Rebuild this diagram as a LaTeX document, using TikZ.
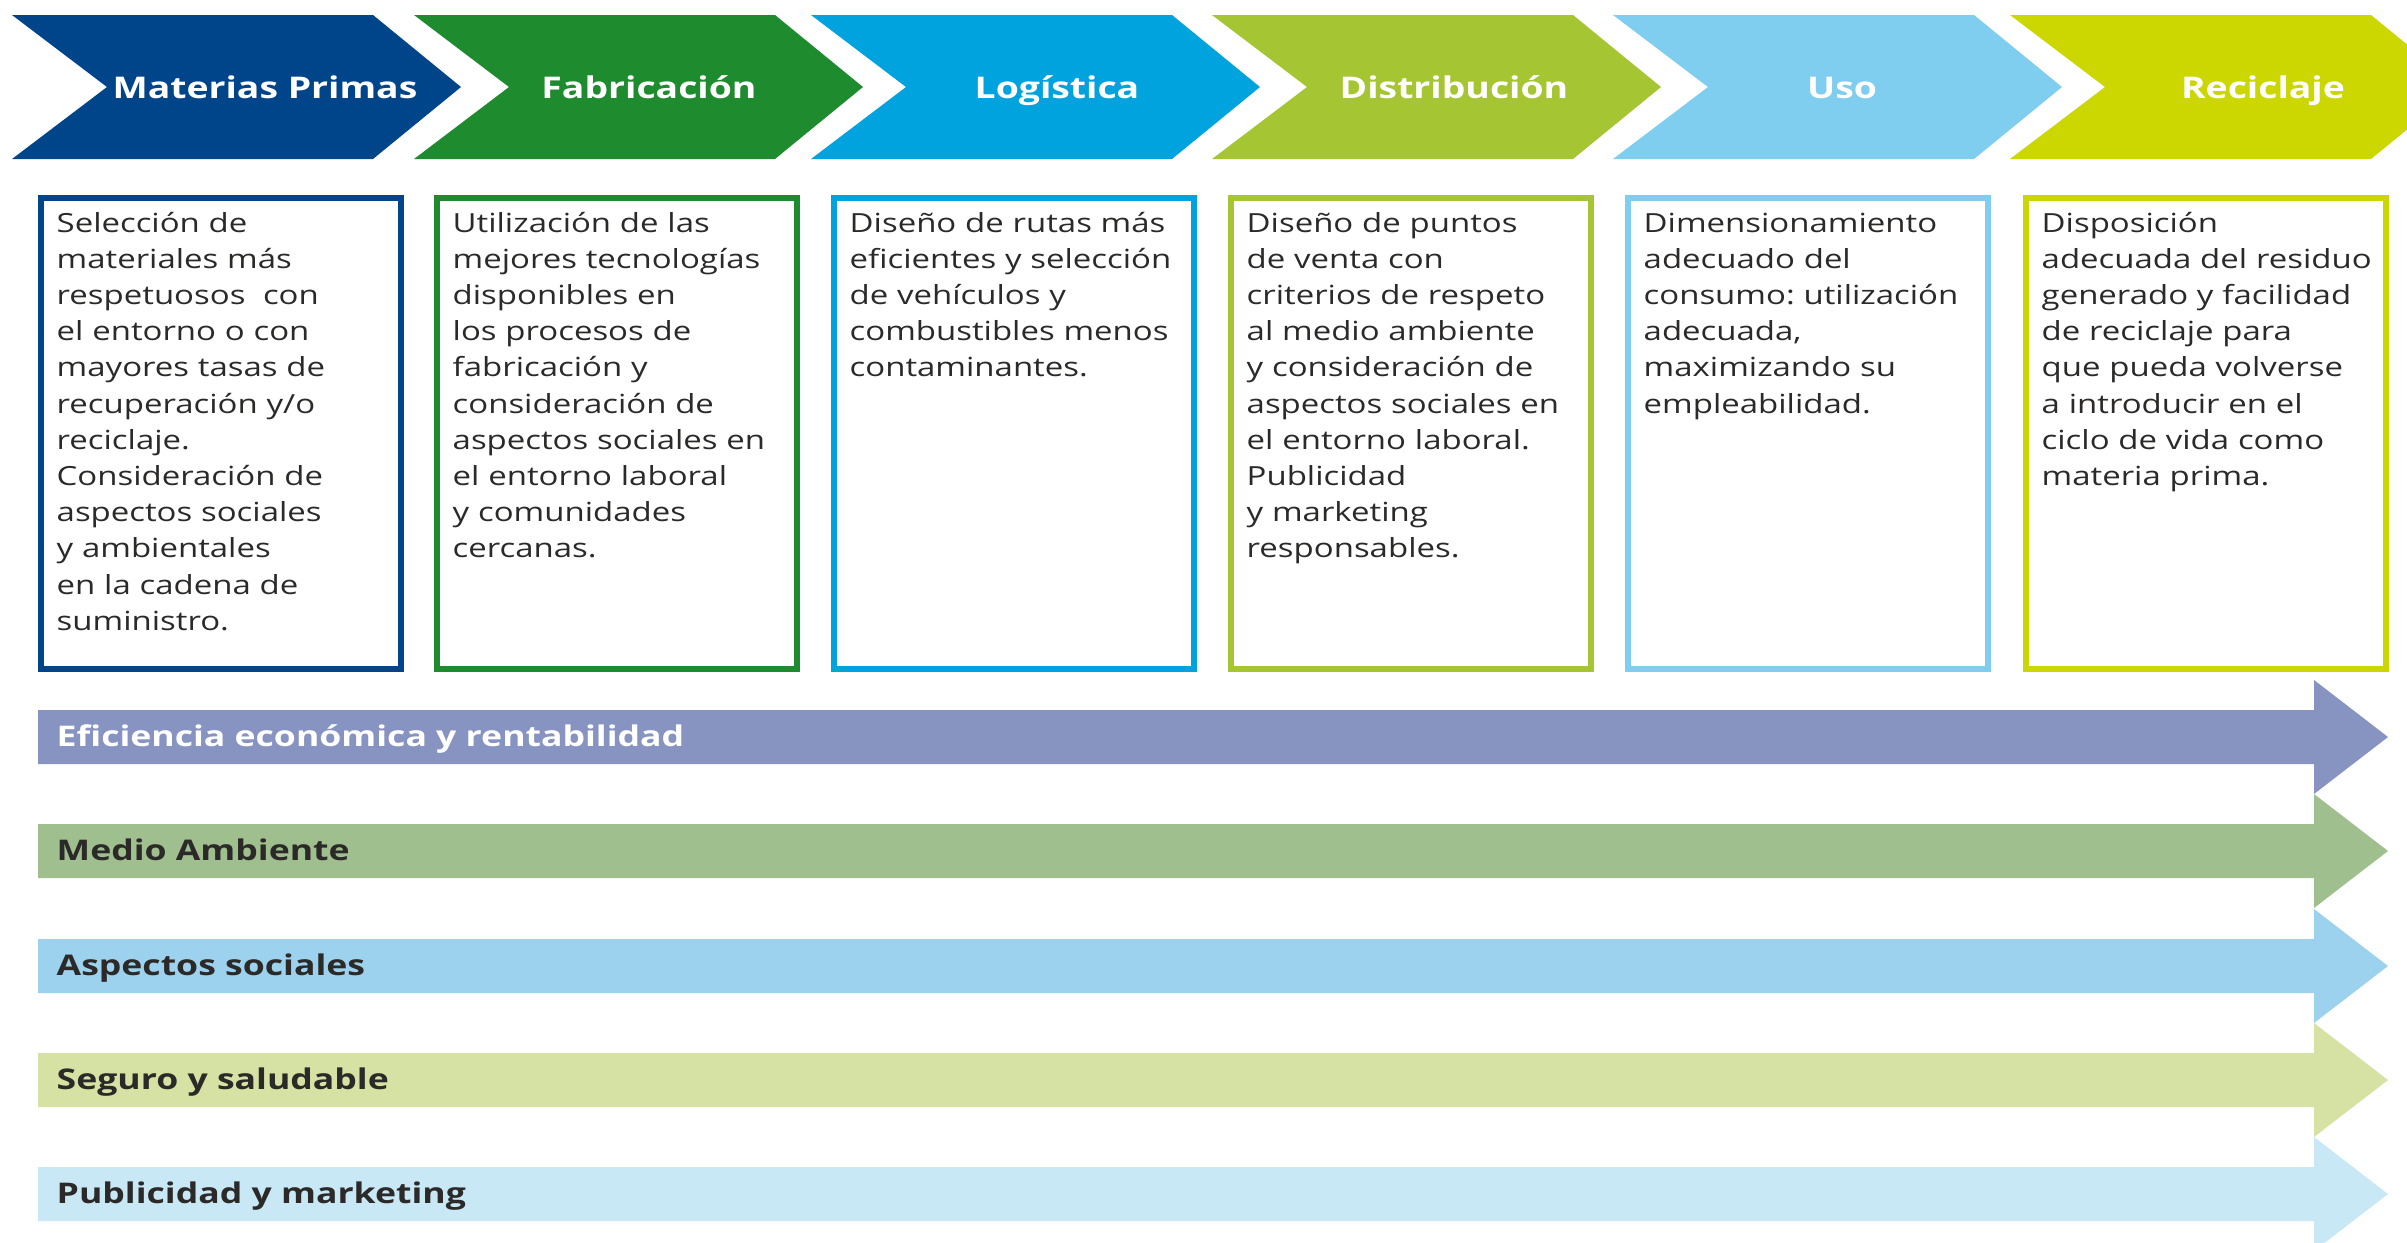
\documentclass[tikz,border=0pt]{standalone}
\usepackage{fontspec}
\setmainfont{Open Sans}[FakeStretch=1.25]
\frenchspacing

\definecolor{chevblue}{HTML}{00448A}
\definecolor{chevgreen}{HTML}{1E8B2F}
\definecolor{chevcyan}{HTML}{00A3DE}
\definecolor{chevlime}{HTML}{A6C532}
\definecolor{chevsky}{HTML}{7FCDEF}
\definecolor{chevyellow}{HTML}{CCD600}
\definecolor{bandlila}{HTML}{8793C0}
\definecolor{bandsage}{HTML}{A0BF8E}
\definecolor{bandsky}{HTML}{9DD2EE}
\definecolor{bandpale}{HTML}{D6E2A3}
\definecolor{bandice}{HTML}{C8E8F6}
\definecolor{textgray}{HTML}{2B2A29}

\begin{document}
\begin{tikzpicture}[x=0.1mm, y=-0.1mm,
    chevtext/.style={font=\bfseries\fontsize{8.5}{10}\selectfont, text=white, anchor=base, inner sep=0pt},
    desctext/.style={font=\fontsize{7.5}{10.3}\selectfont, text=textgray, text width=34mm, align=left, anchor=base west, inner sep=0pt},
    descbox/.style={line width=0.6mm},
    bandtext/.style={font=\bfseries\fontsize{8.1}{10}\selectfont, text=textgray, anchor=base west, inner sep=0pt}]

    % Frame
    \useasboundingbox (0,0) rectangle (2407,1242);
    \clip (0,0) rectangle (2407,1242);
    \fill[white] (0,0) rectangle (2407,1242);

    % Chevrons
    \fill[chevblue] (12,15) -- ++(361,0) -- ++(88,72) -- ++(-88,72) -- ++(-361,0) -- ++(95,-72) -- cycle;
    \node[chevtext] (materias) at (265,98) {Materias Primas};
    \fill[chevgreen] (414,15) -- ++(361,0) -- ++(88,72) -- ++(-88,72) -- ++(-361,0) -- ++(95,-72) -- cycle;
    \node[chevtext] (fabricacion) at (649,98) {Fabricación};
    \fill[chevcyan] (811,15) -- ++(361,0) -- ++(88,72) -- ++(-88,72) -- ++(-361,0) -- ++(95,-72) -- cycle;
    \node[chevtext] (logistica) at (1057,98) {Logística};
    \fill[chevlime] (1212,15) -- ++(361,0) -- ++(88,72) -- ++(-88,72) -- ++(-361,0) -- ++(95,-72) -- cycle;
    \node[chevtext] (distribucion) at (1454,98) {Distribución};
    \fill[chevsky] (1613,15) -- ++(361,0) -- ++(88,72) -- ++(-88,72) -- ++(-361,0) -- ++(95,-72) -- cycle;
    \node[chevtext] (uso) at (1842,98) {Uso};
    \fill[chevyellow] (2010,15) -- ++(361,0) -- ++(88,72) -- ++(-88,72) -- ++(-361,0) -- ++(95,-72) -- cycle;
    \node[chevtext] (reciclaje) at (2263,98) {Reciclaje};

    % Boxes
    \draw[descbox, chevblue] (41,198) rectangle (401,669);
    \node[desctext] (materiasTxt) at (56,232) {Selección de\\ materiales más\\ respetuosos\ \ con\\ el entorno o con\\ mayores tasas de\\ recuperación y/o\\ reciclaje.\\ Consideración de\\ aspectos sociales\\ y ambientales\\ en la cadena de\\ suministro.};
    \draw[descbox, chevgreen] (437,198) rectangle (797,669);
    \node[desctext] (fabricacionTxt) at (452,232) {Utilización de las\\ mejores tecnologías\\ disponibles en\\ los procesos de\\ fabricación y\\ consideración de\\ aspectos sociales en\\ el entorno laboral\\ y comunidades\\ cercanas.};
    \draw[descbox, chevcyan] (834,198) rectangle (1194,669);
    \node[desctext] (logisticaTxt) at (849,232) {Diseño de rutas más\\ eficientes y selección\\ de vehículos y\\ combustibles menos\\ contaminantes.};
    \draw[descbox, chevlime] (1231,198) rectangle (1591,669);
    \node[desctext] (distribucionTxt) at (1246,232) {Diseño de puntos\\ de venta con\\ criterios de respeto\\ al medio ambiente\\ y consideración de\\ aspectos sociales en\\ el entorno laboral.\\ Publicidad\\ y marketing\\ responsables.};
    \draw[descbox, chevsky] (1628,198) rectangle (1988,669);
    \node[desctext] (usoTxt) at (1643,232) {Dimensionamiento\\ adecuado del\\ consumo: utilización\\ adecuada,\\ maximizando su\\ empleabilidad.};
    \draw[descbox, chevyellow] (2026,198) rectangle (2386,669);
    \node[desctext] (reciclajeTxt) at (2041,232) {Disposición\\ adecuada del residuo\\ generado y facilidad\\ de reciclaje para\\ que pueda volverse\\ a introducir en el\\ ciclo de vida como\\ materia prima.};

    % Arrows
    \fill[bandlila] (38,710) -- ++(2276,0) -- ++(0,-30) -- ++(74,57) -- ++(-74,57) -- ++(0,-30) -- ++(-2276,0) -- cycle;
    \node[bandtext, text=white] (eficiencia) at (56,746) {Eficiencia económica y rentabilidad};
    \fill[bandsage] (38,824) -- ++(2276,0) -- ++(0,-30) -- ++(74,57) -- ++(-74,57) -- ++(0,-30) -- ++(-2276,0) -- cycle;
    \node[bandtext] (medio) at (56,860) {Medio Ambiente};
    \fill[bandsky] (38,939) -- ++(2276,0) -- ++(0,-30) -- ++(74,57) -- ++(-74,57) -- ++(0,-30) -- ++(-2276,0) -- cycle;
    \node[bandtext] (sociales) at (56,975) {Aspectos sociales};
    \fill[bandpale] (38,1053) -- ++(2276,0) -- ++(0,-30) -- ++(74,57) -- ++(-74,57) -- ++(0,-30) -- ++(-2276,0) -- cycle;
    \node[bandtext] (seguro) at (56,1089) {Seguro y saludable};
    \fill[bandice] (38,1167) -- ++(2276,0) -- ++(0,-30) -- ++(74,57) -- ++(-74,57) -- ++(0,-30) -- ++(-2276,0) -- cycle;
    \node[bandtext] (publicidad) at (56,1203) {Publicidad y marketing};

\end{tikzpicture}
\end{document}
